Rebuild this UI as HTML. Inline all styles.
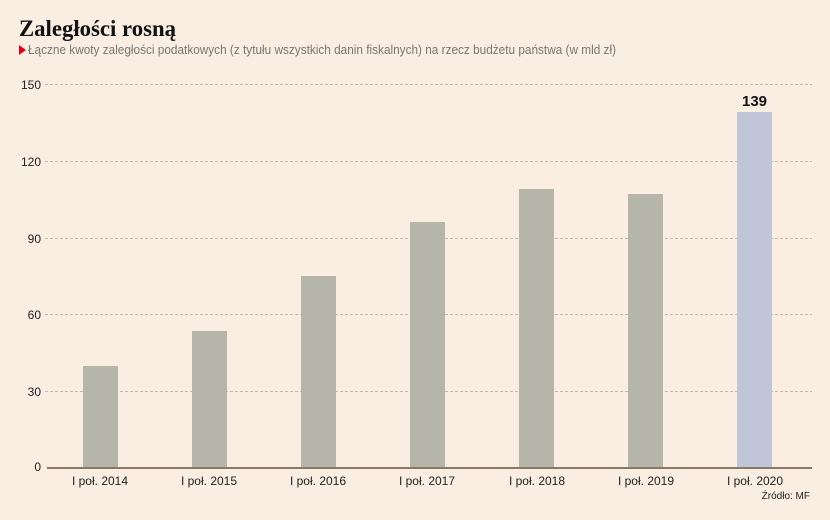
<!DOCTYPE html>
<html><head><meta charset="utf-8"><style>
body{margin:0;background:#faede2;}
svg{display:block;font-family:"Liberation Sans",sans-serif;}
</style></head><body>
<svg width="830" height="520" viewBox="0 0 830 520">
<rect width="830" height="520" fill="#faede2"/>
<text x="19" y="36" font-family="Liberation Serif,serif" font-weight="bold" font-size="23" fill="#111" textLength="157" lengthAdjust="spacingAndGlyphs">Zaległości rosną</text>
<path d="M19 45 L26 50 L19 55Z" fill="#e3001b"/>
<text x="28" y="54" font-size="12.5" fill="#777" textLength="588" lengthAdjust="spacingAndGlyphs">Łączne kwoty zaległości podatkowych (z tytułu wszystkich danin fiskalnych) na rzecz budżetu państwa (w mld zł)</text>
<g stroke="#c4b8ad" stroke-dasharray="3,2" stroke-width="1">
<line x1="45" y1="84.5" x2="812" y2="84.5"/>
<line x1="45" y1="161.5" x2="812" y2="161.5"/>
<line x1="45" y1="238.5" x2="812" y2="238.5"/>
<line x1="45" y1="314.5" x2="812" y2="314.5"/>
<line x1="45" y1="391.5" x2="812" y2="391.5"/>
</g>
<g font-size="12" fill="#222" text-anchor="end">
<text x="41" y="89">150</text><text x="41" y="166">120</text><text x="41" y="243">90</text>
<text x="41" y="319">60</text><text x="41" y="396">30</text><text x="41" y="471">0</text>
</g>
<g fill="#b5b5aa">
<rect x="83" y="366" width="35" height="102"/>
<rect x="192" y="331" width="35" height="137"/>
<rect x="301" y="276" width="35" height="192"/>
<rect x="410" y="222" width="35" height="246"/>
<rect x="519" y="189" width="35" height="279"/>
<rect x="628" y="194" width="35" height="274"/>
</g>
<rect x="737" y="112" width="35" height="356" fill="#c0c6d8"/>
<text x="754.5" y="106" font-size="15" font-weight="bold" text-anchor="middle" fill="#111">139</text>
<line x1="47" y1="468" x2="812" y2="468" stroke="#8a7766" stroke-width="2"/>
<g font-size="12" fill="#222" text-anchor="middle">
<text x="100" y="485">I poł. 2014</text><text x="209" y="485">I poł. 2015</text>
<text x="318" y="485">I poł. 2016</text><text x="427" y="485">I poł. 2017</text>
<text x="537" y="485">I poł. 2018</text><text x="646" y="485">I poł. 2019</text>
<text x="755" y="485">I poł. 2020</text>
</g>
<text x="810" y="499" font-size="10" text-anchor="end" fill="#222">Źródło: MF</text>
</svg>
</body></html>
